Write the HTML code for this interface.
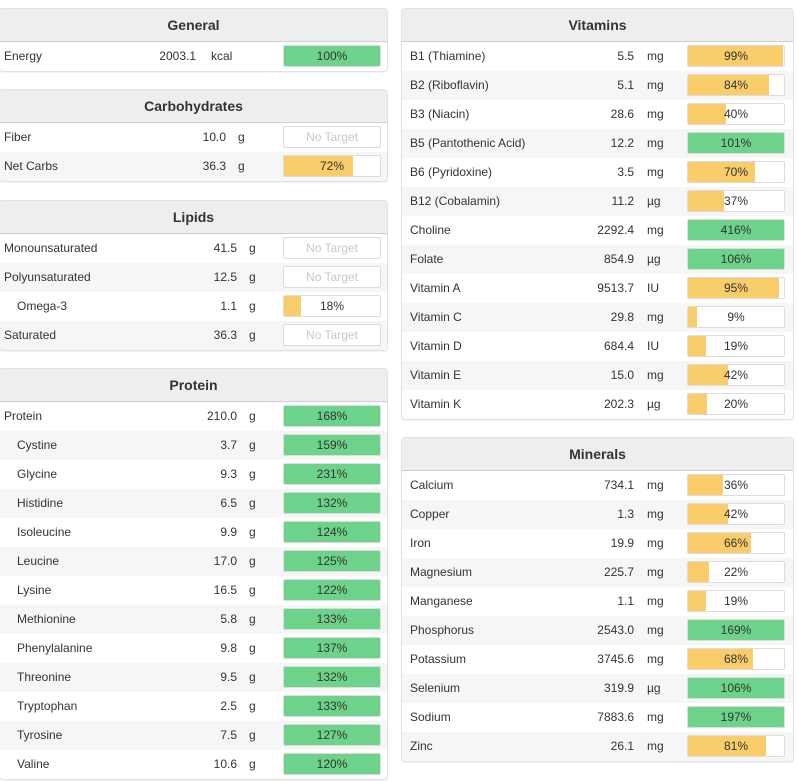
<!DOCTYPE html>
<html><head><meta charset="utf-8">
<style>
body{margin:0;width:797px;height:781px;background:#fff;font-family:"Liberation Sans",sans-serif;font-size:12px;color:#333;position:relative;overflow:hidden}
.panel{position:absolute;border:1px solid #e2e2e2;border-radius:4px;background:#fff;overflow:hidden;box-shadow:0 1px 1px rgba(0,0,0,.05)}
.hdr{height:32px;line-height:33px;background:#eeeeee;border-bottom:1px solid #cfcfcf;text-align:center;font-weight:bold;font-size:14px;color:#333}
.row{position:relative;height:29px;line-height:29px}
.row.alt{background:#f6f6f6}
.nm,.val,.unit{position:absolute;top:0;white-space:nowrap}
.val{text-align:right}
.bar{position:absolute;top:3px;height:22px;border:1px solid #dcdcdc;border-radius:2px;background:#fff;box-sizing:border-box;overflow:hidden}
.fill{position:absolute;left:0;top:0;bottom:0}
.pct{position:absolute;left:0;right:0;top:0;line-height:20px;text-align:center;color:#333}
.nt{color:#c8c8c8}
</style></head><body>
<script>
const generalNames=["Energy"],generalVals=["2003.1"],generalUnits=["kcal"],generalPct=[100],generalInd=[0];
const carbNames=["Fiber","Net Carbs"],carbVals=["10.0","36.3"],carbUnits=["g","g"],carbPct=[null,72],carbInd=[0,0];
const lipidNames=["Monounsaturated","Polyunsaturated","Omega-3","Saturated"],lipidVals=["41.5","12.5","1.1","36.3"],lipidUnits=["g","g","g","g"],lipidPct=[null,null,18,null],lipidInd=[0,0,1,0];
const protNames=["Protein","Cystine","Glycine","Histidine","Isoleucine","Leucine","Lysine","Methionine","Phenylalanine","Threonine","Tryptophan","Tyrosine","Valine"];
const protVals=["210.0","3.7","9.3","6.5","9.9","17.0","16.5","5.8","9.8","9.5","2.5","7.5","10.6"];
const protUnits=["g","g","g","g","g","g","g","g","g","g","g","g","g"];
const protPct=[168,159,231,132,124,125,122,133,137,132,133,127,120];
const protInd=[0,1,1,1,1,1,1,1,1,1,1,1,1];
const vitNames=["B1 (Thiamine)","B2 (Riboflavin)","B3 (Niacin)","B5 (Pantothenic Acid)","B6 (Pyridoxine)","B12 (Cobalamin)","Choline","Folate","Vitamin A","Vitamin C","Vitamin D","Vitamin E","Vitamin K"];
const vitVals=["5.5","5.1","28.6","12.2","3.5","11.2","2292.4","854.9","9513.7","29.8","684.4","15.0","202.3"];
const vitUnits=["mg","mg","mg","mg","mg","µg","mg","µg","IU","mg","IU","mg","µg"];
const vitPct=[99,84,40,101,70,37,416,106,95,9,19,42,20];
const vitInd=[0,0,0,0,0,0,0,0,0,0,0,0,0];
const minNames=["Calcium","Copper","Iron","Magnesium","Manganese","Phosphorus","Potassium","Selenium","Sodium","Zinc"];
const minVals=["734.1","1.3","19.9","225.7","1.1","2543.0","3745.6","319.9","7883.6","26.1"];
const minUnits=["mg","mg","mg","mg","mg","mg","mg","µg","mg","mg"];
const minPct=[36,42,66,22,19,169,68,106,197,81];
const minInd=[0,0,0,0,0,0,0,0,0,0];

function panel(name,title,x,y,w,names,vals,units,pcts,ind,valR,unitX,barX,nameX){
  const p=document.createElement('div');p.className='panel';
  
  
  p.style.left=x+'px';p.style.top=y+'px';p.style.width=w+'px';
  const h=document.createElement('div');h.className='hdr';h.textContent=title;
  
  
  p.appendChild(h);
  names.forEach((n,i)=>{
    const r=document.createElement('div');r.className='row'+(i%2?' alt':'');
    
    
    const a=document.createElement('span');a.className='nm';a.style.left=(ind[i]?nameX+13:nameX)+'px';a.textContent=n;
    
    
    const v=document.createElement('span');v.className='val';v.style.right=(w-valR)+'px';v.textContent=vals[i];
    
    
    const u=document.createElement('span');u.className='unit';u.style.left=unitX+'px';u.textContent=units[i];
    
    
    const b=document.createElement('div');b.className='bar';b.style.left=barX+'px';b.style.width='98px';
    
    
    const t=document.createElement('div');t.className='pct';
    if(pcts[i]==null){t.textContent='No Target';t.classList.add('nt');}
    else{
      const f=document.createElement('div');f.className='fill';
      
      
      f.style.width=Math.min(pcts[i],100)+'%';
      f.style.background=pcts[i]>=100?'#6dd38a':'#f8cd6a';
      b.appendChild(f);t.textContent=pcts[i]+'%';
    }
    
    
    b.appendChild(t);
    r.append(a,v,u,b);p.appendChild(r);
  });
  document.body.appendChild(p);
}
panel('general-panel','General',-1,8,387,generalNames,generalVals,generalUnits,generalPct,generalInd,196,211,283,4);
panel('carbohydrates-panel','Carbohydrates',-1,89,387,carbNames,carbVals,carbUnits,carbPct,carbInd,226,238,283,4);
panel('lipids-panel','Lipids',-1,200,387,lipidNames,lipidVals,lipidUnits,lipidPct,lipidInd,237,249,283,4);
panel('protein-panel','Protein',-1,368,387,protNames,protVals,protUnits,protPct,protInd,237,249,283,4);
panel('vitamins-panel','Vitamins',401,8,391,vitNames,vitVals,vitUnits,vitPct,vitInd,232,245,285,8);
panel('minerals-panel','Minerals',401,437,391,minNames,minVals,minUnits,minPct,minInd,232,245,285,8);
</script>
</body></html>
